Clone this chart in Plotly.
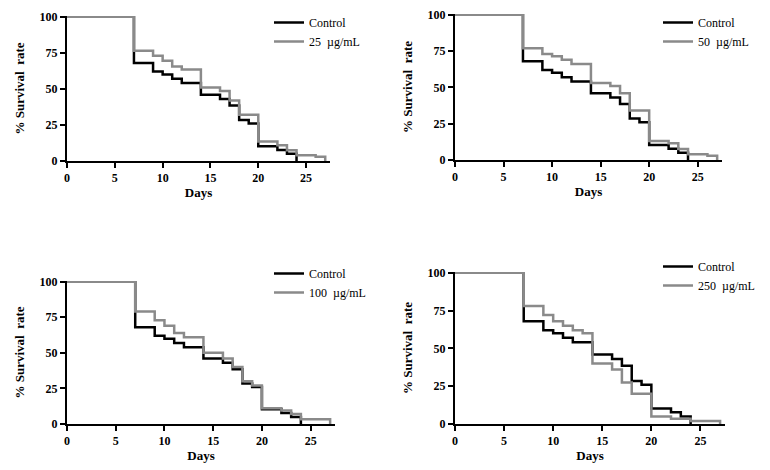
import plotly.graph_objects as go

# step times (days) and % survival for each curve
control_days = [0, 7, 9, 10, 11, 12, 14, 16, 17, 18, 19, 20, 22, 23, 24]
control_surv = [100, 68, 62, 60, 57, 54, 46, 43, 38.5, 28.5, 26, 10.3, 7.7, 5, 0]

d25_days = [0, 7, 9, 10, 11, 12, 14, 16, 17, 18, 20, 22, 23, 24, 26, 27]
d25_surv = [100, 76.5, 73, 69.5, 65.5, 63.5, 51, 48.5, 42, 32, 13.5, 11, 7.5, 4, 3, 0]

d50_days = [0, 7, 9, 10, 11, 12, 14, 16, 17, 18, 20, 22, 23, 24, 26, 27]
d50_surv = [100, 77, 73, 71.5, 69, 66, 53, 51, 46, 34, 13, 11.5, 7.5, 4, 3, 0]

d100_days = [0, 7, 9, 10, 11, 12, 14, 16, 17, 18, 19, 20, 22, 23, 24, 27]
d100_surv = [100, 79, 73, 69, 64, 61, 50, 46, 40, 30, 27, 11, 9.5, 7, 3.3, 0]

d250_days = [0, 7, 9, 10, 11, 12, 13, 14, 16, 17, 18, 20, 22, 24, 27]
d250_surv = [100, 78, 72, 68, 65, 62, 60, 40, 36, 27.5, 20, 5, 3.5, 2, 0]

x_end = 27.5
panels = [
    ("25  µg/mL", d25_days, d25_surv),
    ("50  µg/mL", d50_days, d50_surv),
    ("100  µg/mL", d100_days, d100_surv),
    ("250  µg/mL", d250_days, d250_surv),
]

W, H = 770, 470
OFF = 8  # page body margin
# plot boxes in page pixels: (left, right, top, bottom)
boxes = [(67, 330, 16, 161), (455, 722, 14, 160), (67, 335, 281, 424), (455, 725, 272, 424)]
legend_pos = [(269, 8), (658, 8), (269, 259), (658, 252)]

fig = go.Figure()
serif = "Liberation Serif, Times New Roman, serif"

for i, (label, days, surv) in enumerate(panels):
    n = "" if i == 0 else str(i + 1)
    leg = "legend" if i == 0 else "legend" + str(i + 1)
    fig.add_trace(go.Scatter(x=control_days + [control_days[-1]], y=control_surv + [control_surv[-1]],
                             mode="lines", line=dict(color="black", width=2.5, shape="hv"),
                             name="Control", xaxis="x" + n, yaxis="y" + n, legend=leg))
    fig.add_trace(go.Scatter(x=days, y=surv,
                             mode="lines", line=dict(color="#8a8a8a", width=2.5, shape="hv"),
                             name=label, xaxis="x" + n, yaxis="y" + n, legend=leg))

    l, r, t, b = [v - OFF for v in boxes[i]]
    lx, ly = legend_pos[i][0] - OFF, legend_pos[i][1] - OFF
    axis_common = dict(showline=True, linecolor="black", linewidth=2, ticks="outside",
                       ticklen=5, tickwidth=2, tickcolor="black", showgrid=False, zeroline=False,
                       automargin=False, ticklabeloverflow="allow",
                       tickfont=dict(family=serif, size=12, color="black", weight="bold"))
    fig.update_layout(**{
        "xaxis" + n: dict(domain=[l / W, r / W], range=[0, x_end], tickvals=[0, 5, 10, 15, 20, 25],
                          anchor="y" + n,
                          title=dict(text="<b>Days</b>", font=dict(family=serif, size=13, color="black"),
                                     standoff=1),
                          **axis_common),
        "yaxis" + n: dict(domain=[1 - b / H, 1 - t / H], range=[0, 100.5], tickvals=[0, 25, 50, 75, 100],
                          anchor="x" + n,
                          title=dict(text="<b>% Survival  rate</b>",
                                     font=dict(family=serif, size=13, color="black"), standoff=12),
                          **axis_common),
        leg: dict(x=lx / W, y=1 - ly / H, xanchor="left", yanchor="top",
                  bgcolor="rgba(0,0,0,0)", font=dict(family=serif, size=12, color="black"),
                  tracegroupgap=0, itemwidth=30),
    })

fig.update_layout(width=W, height=H, margin=dict(l=0, r=0, t=0, b=0),
                  plot_bgcolor="white", paper_bgcolor="white", showlegend=True)

fig.write_html("out.html")
